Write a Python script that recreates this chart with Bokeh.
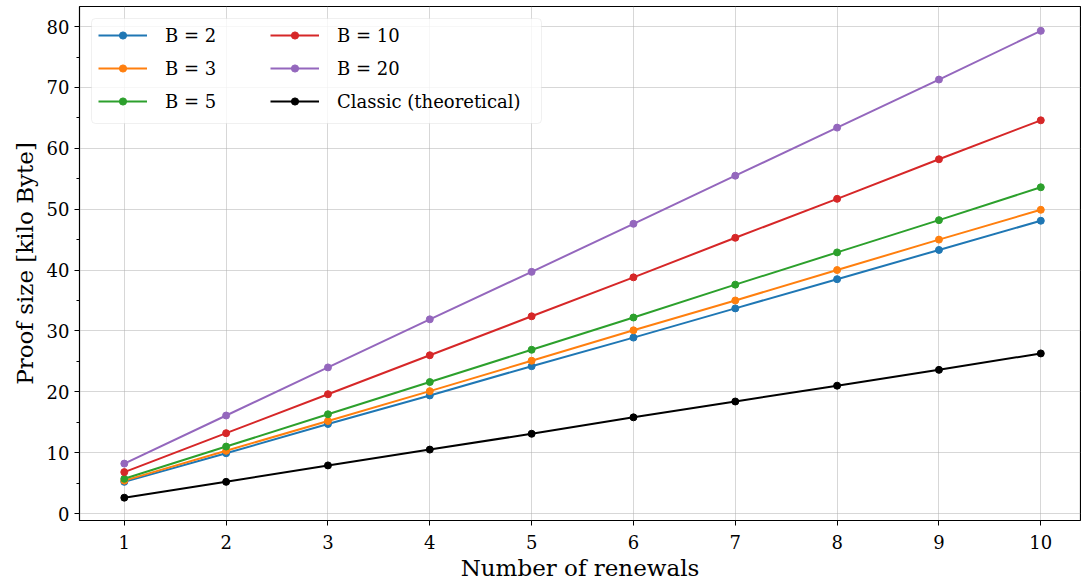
from bokeh.plotting import figure
from bokeh.models import Range1d, Legend, LegendItem, FixedTicker, BoxAnnotation
from bokeh.embed import file_html
from bokeh.resources import INLINE

renewals = [1, 2, 3, 4, 5, 6, 7, 8, 9, 10]
b2 = [5.2, 9.9, 14.7, 19.4, 24.2, 28.9, 33.7, 38.5, 43.3, 48.1]
b3 = [5.4, 10.3, 15.2, 20.1, 25.1, 30.1, 35.0, 40.0, 45.0, 49.9]
b5 = [5.7, 11.0, 16.3, 21.6, 26.9, 32.2, 37.6, 42.9, 48.2, 53.6]
b10 = [6.8, 13.2, 19.6, 26.0, 32.4, 38.8, 45.3, 51.7, 58.2, 64.6]
b20 = [8.2, 16.1, 24.0, 31.9, 39.7, 47.6, 55.5, 63.4, 71.3, 79.3]
classic = [2.6, 5.2, 7.9, 10.5, 13.1, 15.8, 18.4, 21.0, 23.6, 26.3]

labels = ["B = 2", "B = 3", "B = 5", "B = 10", "B = 20", "Classic (theoretical)"]
series = [b2, b3, b5, b10, b20, classic]
colors = ["#1f77b4", "#ff7f0e", "#2ca02c", "#d62728", "#9467bd", "#000000"]

FONT = "DejaVu Serif"

p = figure(width=1081, height=585, output_backend="svg", toolbar_location=None,
           x_range=Range1d(0.56, 10.39), y_range=Range1d(-1.15, 83.3),
           min_border_left=79, min_border_right=1, min_border_top=6, min_border_bottom=65)

p.outline_line_color = "black"
p.outline_line_width = 1.2
p.background_fill_color = "white"
p.border_fill_color = "white"

items = []
for lab, ys, c in zip(labels, series, colors):
    r1 = p.line(renewals, ys, line_color=c, line_width=2)
    r2 = p.scatter(renewals, ys, size=7, fill_color=c, line_color=c)
    items.append(LegendItem(label=lab, renderers=[r1, r2]))

box = BoxAnnotation(left=12, right=462, bottom=397, top=502,
                    left_units="screen", right_units="screen",
                    bottom_units="screen", top_units="screen",
                    fill_color="white", fill_alpha=0.8,
                    line_color="#cccccc", line_width=1, border_radius=4)
p.add_layout(box)

common = dict(label_text_font=FONT, label_text_font_size="18px",
              label_text_color="black",
              border_line_color=None, background_fill_alpha=0.0,
              margin=0, padding=0, spacing=5, glyph_width=49, glyph_height=18,
              label_standoff=18, label_height=28)
leg1 = Legend(items=items[:3], location=(19, 405), **common)
leg2 = Legend(items=items[3:], location=(191, 405), **common)
p.add_layout(leg1)
p.add_layout(leg2)

p.xaxis.ticker = FixedTicker(ticks=renewals)
p.yaxis.ticker = FixedTicker(ticks=[0, 10, 20, 30, 40, 50, 60, 70, 80],
                             minor_ticks=[5, 15, 25, 35, 45, 55, 65, 75])
for ax in (p.xaxis, p.yaxis):
    ax.major_label_text_font = FONT
    ax.major_label_text_font_size = "18px"
    ax.axis_label_text_font = FONT
    ax.axis_label_text_font_size = "23px"
    ax.axis_label_text_font_style = "normal"
    ax.axis_line_color = None
    ax.major_tick_line_color = "black"
    ax.major_tick_out = 5
    ax.major_tick_in = 0
    ax.major_label_text_color = "black"
    ax.axis_label_text_color = "black"
p.xaxis.minor_tick_line_color = None
p.yaxis.minor_tick_line_color = "black"
p.yaxis.minor_tick_out = 3
p.yaxis.minor_tick_in = 0
p.xaxis.axis_label = "Number of renewals"
p.yaxis.axis_label = "Proof size [kilo Byte]"
p.xaxis.major_label_standoff = 9
p.xaxis.axis_label_standoff = 3
p.yaxis.axis_label_standoff = 6

p.xgrid.grid_line_color = "#b0b0b0"
p.ygrid.grid_line_color = "#b0b0b0"
p.xgrid.grid_line_alpha = 0.5
p.ygrid.grid_line_alpha = 0.5

open("out.html", "w").write(file_html(p, INLINE))
